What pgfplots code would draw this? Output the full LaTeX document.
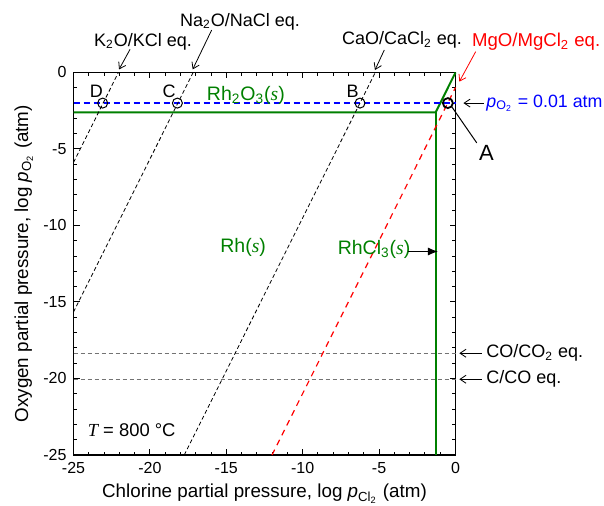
\documentclass[border=0pt]{standalone}
\usepackage{fontspec}
\setmainfont{Liberation Sans}
\newfontfamily\tms{Liberation Serif}
\usepackage{pgfplots}
\pgfplotsset{compat=1.18}
\usetikzlibrary{arrows.meta}
\definecolor{rhgreen}{RGB}{0,128,0}
\newcommand{\sit}[1]{{\tms\itshape #1}}
\begin{document}
\begin{tikzpicture}
\begin{axis}[
    at={(36.75pt,25.5pt)},
    scale only axis,
    width=191pt, height=191.25pt,
    xmin=-25, xmax=0, ymin=-25, ymax=0,
    xtick={-25,-20,...,0}, ytick={-25,-20,...,0},
    minor tick num=4,
    major tick length=3pt, minor tick length=1.7pt,
    tick style={black, line width=0.5pt},
    axis line style={line width=0.75pt},
    clip=false,
    /pgf/number format/assume math mode=true,
    tick label style={font=\fontsize{8}{9}\selectfont},
    label style={font=\fontsize{9.4}{11}\selectfont},
    xlabel={Chlorine partial pressure, log \textit{p}\textsubscript{Cl\textsubscript{2}} (atm)},
    ylabel={Oxygen partial pressure, log \textit{p}\textsubscript{O\textsubscript{2}} (atm)},
    xlabel style={at={(axis description cs:0.5,-0.112)}, anchor=base},
    ylabel style={at={(axis description cs:-0.119,0.5)}, anchor=base},
    ]
% stability boundaries of Rh phases
\addplot[rhgreen, line width=1pt] coordinates {(-25,-2.6) (-1.3,-2.6) (0,0)};
\addplot[rhgreen, line width=1pt] coordinates {(-1.3,-2.6) (-1.3,-25)};
% pO2 = 0.01 atm
\addplot[blue, line width=0.6pt, dash pattern=on 3pt off 2pt] coordinates {(-25,-2) (0,-2)};
% CO/CO2 and C/CO
\addplot[black!55, line width=0.5pt, dash pattern=on 2pt off 1.5pt] coordinates {(-25,-18.35) (0,-18.35)};
\addplot[black!55, line width=0.5pt, dash pattern=on 2pt off 1.5pt] coordinates {(-25,-20.05) (0,-20.05)};
% oxide/chloride equilibria
\addplot[black, line width=0.4pt, dash pattern=on 2pt off 1.3pt] coordinates {(-25,-5.88) (-22.06,0)};
\addplot[black, line width=0.4pt, dash pattern=on 2pt off 1.3pt] coordinates {(-25,-15.66) (-17.17,0)};
\addplot[black, line width=0.4pt, dash pattern=on 2pt off 1.3pt] coordinates {(-17.75,-25) (-5.25,0)};
\addplot[red, line width=0.6pt, dash pattern=on 3pt off 2.5pt] coordinates {(-12.01,-25) (0,-0.98)};
% points
\addplot[only marks, mark=o, mark size=2.5pt, black, mark options={line width=0.5pt}]
    coordinates {(-23.09,-2) (-18.2,-2) (-6.25,-2)};
\addplot[only marks, mark=o, mark size=2.5pt, black, mark options={line width=0.9pt}]
    coordinates {(-0.5,-2)};

\begin{scope}[font=\fontsize{9}{10}\selectfont]
\node at (axis cs:-23.51,-1.21) {D};
\node at (axis cs:-18.75,-1.21) {C};
\node at (axis cs:-6.74,-1.21) {B};
\node[anchor=base] at (axis cs:-20.45,1.69) {K\textsubscript{2}O/KCl eq.};
\node[anchor=base] at (axis cs:-14.1,3.03) {Na\textsubscript{2}O/NaCl eq.};
\node[anchor=base] at (axis cs:-3.5,1.8) {CaO/CaCl\textsubscript{2} eq.};
\node[anchor=base, red, font=\fontsize{9.3}{10}\selectfont] at (axis cs:5.28,1.68) {MgO/MgCl\textsubscript{2} eq.};
\node[anchor=west, blue, inner sep=0pt, font=\fontsize{8.9}{10}\selectfont] at (axis cs:2.0,-2) {\textit{p}\textsubscript{O\textsubscript{2}} = 0.01 atm};
\node[anchor=west, inner sep=0pt] at (axis cs:2.0,-18.35) {CO/CO\textsubscript{2} eq.};
\node[anchor=west, inner sep=0pt] at (axis cs:2.0,-20.05) {C/CO eq.};
\end{scope}
\draw[line width=0.4pt, -{Straight Barb[length=3pt,width=4pt]}] (axis cs:-21.3,1.51) -- (axis cs:-22.02,0.2);
\draw[line width=0.4pt, -{Straight Barb[length=3pt,width=4pt]}] (axis cs:-15.96,2.77) -- (axis cs:-17.2,0.2);
\draw[line width=0.4pt, -{Straight Barb[length=3pt,width=4pt]}] (axis cs:-4.66,1.47) -- (axis cs:-5.27,0.16);
\draw[red, line width=0.4pt, -{Straight Barb[length=3pt,width=4pt]}] (axis cs:1.32,1.36) -- (axis cs:0.25,-0.6);
\draw[line width=0.4pt, -{Straight Barb[length=3pt,width=4pt]}] (axis cs:1.85,-2) -- (axis cs:0.52,-2);
\draw[line width=0.4pt, -{Straight Barb[length=3pt,width=4pt]}] (axis cs:1.72,-18.35) -- (axis cs:0.25,-18.35);
\draw[line width=0.4pt, -{Straight Barb[length=3pt,width=4pt]}] (axis cs:1.72,-20.05) -- (axis cs:0.25,-20.05);
\draw[line width=0.5pt] (axis cs:-0.25,-2.23) -- (axis cs:1.39,-4.6);
\node[font=\fontsize{11}{12}\selectfont] at (axis cs:2.03,-5.26) {A};

\begin{scope}[rhgreen, font=\fontsize{9.75}{11}\selectfont]
\node[anchor=base] at (axis cs:-13.72,-1.8) {Rh\textsubscript{2}O\textsubscript{3}(\sit{s})};
\node[anchor=base] at (axis cs:-13.9,-11.78) {Rh(\sit{s})};
\node[anchor=base] at (axis cs:-5.33,-11.9) {RhCl\textsubscript{3}(\sit{s})};
\end{scope}
\draw[line width=0.5pt, -{Latex[length=5pt,width=4pt]}] (axis cs:-3.11,-11.7) -- (axis cs:-1.15,-11.7);
\node[anchor=base, font=\fontsize{9.2}{11}\selectfont] at (axis cs:-21.19,-23.81) {\sit{T} = 800 \textdegree C};
\end{axis}
\pgfresetboundingbox
\useasboundingbox (0,0) rectangle (302pt,253pt);
\end{tikzpicture}
\end{document}
